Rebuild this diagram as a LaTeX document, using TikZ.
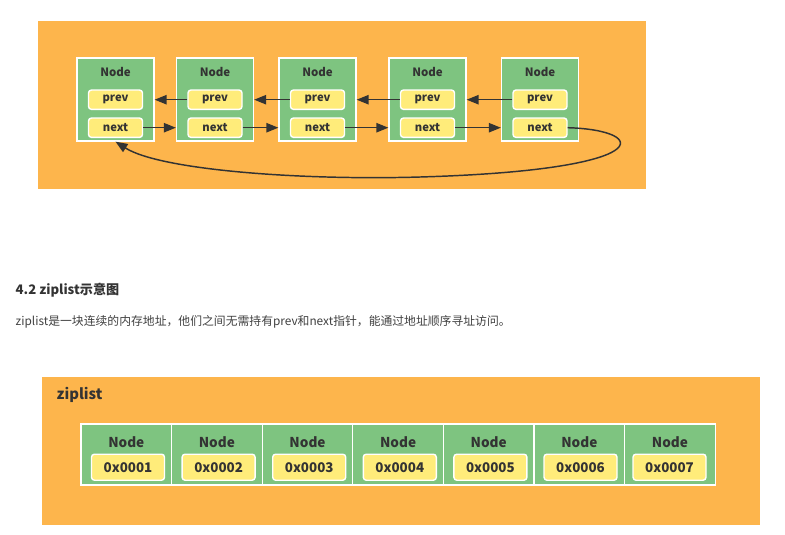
\documentclass[tikz,border=0pt]{standalone}
\usepackage{fontspec}
\setmainfont{Noto Sans CJK SC}
\usetikzlibrary{arrows.meta}
\definecolor{panelorange}{HTML}{FDB54C}
\definecolor{cellgreen}{HTML}{7EC480}
\definecolor{fieldyellow}{HTML}{FFEC7A}
\definecolor{inkgray}{HTML}{333333}
\tikzset{
    list diagram/.style = {x=0.3mm, y=-0.3mm, >={Triangle[length=3.6mm, width=2.8mm]}},
    panel/.style        = {fill=panelorange},
    cell/.style         = {draw=white, line width=1.1pt, fill=cellgreen,
                           minimum width=2.31cm, minimum height=2.49cm},
    zcell/.style        = {cell, minimum width=2.72cm, minimum height=1.83cm},
    field/.style        = {draw=white, line width=1.2pt, fill=fieldyellow,
                           rounded corners=2.5pt, inner sep=0pt, text=inkgray,
                           font=\fontsize{9.6}{11}\selectfont\bfseries,
                           minimum width=1.62cm, minimum height=0.58cm},
    zfield/.style       = {field, font=\fontsize{11.4}{13}\selectfont\bfseries,
                           minimum width=2.19cm, minimum height=0.78cm},
    title/.style        = {text=inkgray, inner sep=0pt,
                           font=\fontsize{9.8}{11}\selectfont\bfseries},
    ztitle/.style       = {title, font=\fontsize{11.6}{13}\selectfont\bfseries},
    link/.style         = {->, line width=1.25pt, draw=inkgray},
    prose/.style        = {anchor=west, inner sep=0pt, text=inkgray}
}

\begin{document}
\begin{tikzpicture}[list diagram]
\useasboundingbox (0,0) rectangle (785,534);

% Doubly linked list with a circular next pointer.
\fill[panel] (37.5,21) rectangle (646,189);
\node[cell] (n1) at (115.5,99.5) {};
\node[cell] (n2) at (215,99.5) {};
\node[cell] (n3) at (317.5,99.5) {};
\node[cell] (n4) at (427.5,99.5) {};
\node[cell] (n5) at (540,99.5) {};
\node[title] (n1title) at (115.5,72) {Node};
\node[title] (n2title) at (215,72) {Node};
\node[title] (n3title) at (317.5,72) {Node};
\node[title] (n4title) at (427.5,72) {Node};
\node[title] (n5title) at (540,72) {Node};
\node[field] (n1prev) at (115.5,99.7) {prev};
\node[field] (n2prev) at (215,99.7) {prev};
\node[field] (n3prev) at (317.5,99.7) {prev};
\node[field] (n4prev) at (427.5,99.7) {prev};
\node[field] (n5prev) at (540,99.7) {prev};
\node[field] (n1next) at (115.5,127.7) {next};
\node[field] (n2next) at (215,127.7) {next};
\node[field] (n3next) at (317.5,127.7) {next};
\node[field] (n4next) at (427.5,127.7) {next};
\node[field] (n5next) at (540,127.7) {next};

% prev points back, next points forward.
\draw[link] (n2prev.west) -- (n1.east |- n2prev);
\draw[link] (n3prev.west) -- (n2.east |- n3prev);
\draw[link] (n4prev.west) -- (n3.east |- n4prev);
\draw[link] (n5prev.west) -- (n4.east |- n5prev);
\draw[link] (n1next.east) -- (n2.west |- n1next);
\draw[link] (n2next.east) -- (n3.west |- n2next);
\draw[link] (n3next.east) -- (n4.west |- n3next);
\draw[link] (n4next.east) -- (n5.west |- n4next);
\draw[link] (n5next.east) .. controls (650,130) and (660,170) .. (420,177)
    .. controls (300,180.5) and (160,170) .. (n1.south);

% Section text.
\node[prose, font=\fontsize{11.2}{13}\selectfont\bfseries] (heading)
    at (15.5,290) {4.2 ziplist示意图};
\node[prose, font=\fontsize{10.1}{12}\selectfont, text=black!75] (remark)
    at (15.5,322) {ziplist是一块连续的内存地址，他们之间无需持有prev和next指针，能通过地址顺序寻址访问。};

% Contiguous ziplist block.
\fill[panel] (41.7,376.7) rectangle (760,525);
\node[prose, font=\fontsize{12.6}{14}\selectfont\bfseries] (zlabel)
    at (56.5,395) {ziplist};
\node[zcell] (z1) at (126.3,454.5) {};
\node[zcell] (z2) at (216.9,454.5) {};
\node[zcell] (z3) at (307.5,454.5) {};
\node[zcell] (z4) at (398.1,454.5) {};
\node[zcell] (z5) at (488.7,454.5) {};
\node[zcell] (z6) at (579.3,454.5) {};
\node[zcell] (z7) at (669.9,454.5) {};
\node[ztitle] (z1title) at (126.3,441.7) {Node};
\node[ztitle] (z2title) at (216.9,441.7) {Node};
\node[ztitle] (z3title) at (307.5,441.7) {Node};
\node[ztitle] (z4title) at (398.1,441.7) {Node};
\node[ztitle] (z5title) at (488.7,441.7) {Node};
\node[ztitle] (z6title) at (579.3,441.7) {Node};
\node[ztitle] (z7title) at (669.9,441.7) {Node};
\node[zfield] (z1addr) at (128,467.2) {0x0001};
\node[zfield] (z2addr) at (218.6,467.2) {0x0002};
\node[zfield] (z3addr) at (309.2,467.2) {0x0003};
\node[zfield] (z4addr) at (399.8,467.2) {0x0004};
\node[zfield] (z5addr) at (490.4,467.2) {0x0005};
\node[zfield] (z6addr) at (580.5,467.2) {0x0006};
\node[zfield] (z7addr) at (669.5,467.2) {0x0007};

\end{tikzpicture}
\end{document}
